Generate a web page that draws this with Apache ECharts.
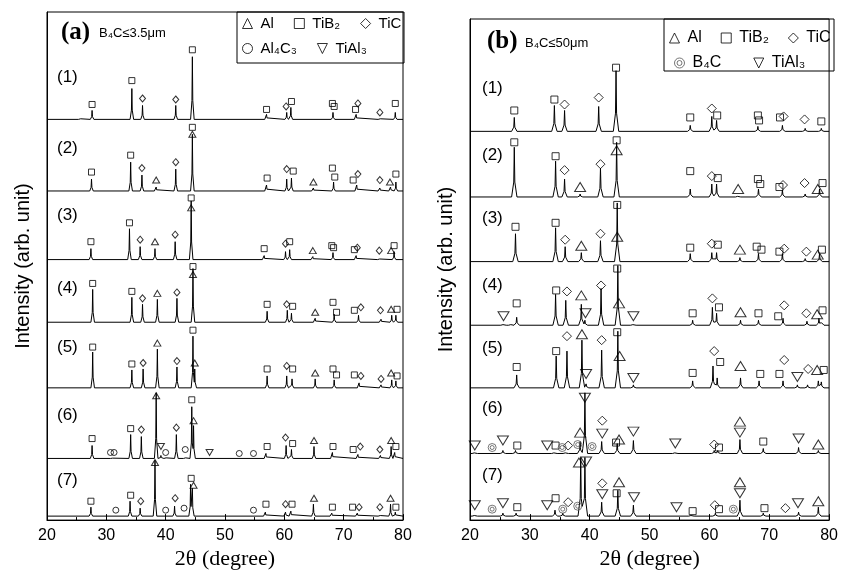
<!DOCTYPE html>
<html>
<head>
<meta charset="utf-8">
<script src="https://cdn.jsdelivr.net/npm/echarts@6/dist/echarts.min.js"></script>
<style>
  html, body { margin: 0; padding: 0; background: #fff; }
  #chart { width: 841px; height: 575px; }
</style>
</head>
<body>
<div id="chart"></div>
<script>
// 2θ range and tick labels
const xTicks = [20, 30, 40, 50, 60, 70, 80];
const phaseNames = { Al: "Al", TiB2: "TiB₂", TiC: "TiC", Al4C3: "Al₄C₃", TiAl3: "TiAl₃", B4C: "B₄C" };
const traceLabels = ["(1)", "(2)", "(3)", "(4)", "(5)", "(6)", "(7)"];

// panel (a) B4C <= 3.5um : stacking offsets (arb. unit), peaks [2θ, height], marks [phase, 2θ, height]
const offsetsA = [403, 331, 262, 199, 133, 62, 4];
const peaksA1 = [[25.6,2],[27.6,9],[34.3,31],[36.1,14],[41.7,14],[44.5,63],[57.0,5],[60.4,7],[61.1,12],[68.2,7],[72.1,5],[76.1,2],[78.7,7]];
const peaksA2 = [[27.5,12],[34.1,29],[36.0,16],[38.4,4],[41.7,22],[44.5,57],[57.0,6],[60.4,12],[61.2,13],[64.9,3],[68.3,9],[72.2,6],[76.1,3],[77.9,4],[78.8,9]];
const peaksA3 = [[27.4,11],[33.9,31],[35.7,13],[38.2,11],[41.6,18],[44.3,59],[56.6,4],[60.2,8],[60.9,10],[64.8,3],[68.2,7],[72.1,4],[76.0,2],[78.5,8]];
const peaksA4 = [[27.7,33],[34.3,25],[36.1,18],[38.6,23],[41.9,24],[44.6,54],[57.1,11],[60.5,12],[61.2,9],[65.2,4],[68.4,8],[72.5,7],[76.3,3],[78.1,7],[78.8,7]];
const peaksA5 = [[27.7,36],[34.3,18],[36.2,19],[38.6,39],[41.9,21],[44.6,52],[44.9,19],[57.1,12],[60.4,12],[61.3,9],[65.2,9],[68.4,8],[72.6,5],[76.3,3],[78.1,8],[78.8,7]];
const peaksA6 = [[27.6,13],[31.0,1],[34.1,24],[35.9,22],[38.4,66],[39.2,3],[40.0,2],[41.8,24],[43.3,2],[44.4,52],[44.7,33],[56.9,5],[60.3,13],[61.2,9],[65.0,12],[68.1,6],[72.4,4],[76.2,3],[78.0,12],[78.6,6]];
const peaksA7 = [[27.4,9],[34.0,15],[35.7,8],[38.2,56],[41.5,10],[44.2,32],[44.5,28],[56.8,4],[60.2,4],[61.1,5],[64.9,12],[68.0,3],[72.3,3],[76.1,2],[77.9,12],[78.7,4]];
const marksA1 = [["TiB2",27.6,15],["TiB2",34.3,39],["TiC",36.1,21],["TiC",41.7,20],["TiB2",44.5,70],["TiB2",57.0,10],["TiC",60.3,13],["TiB2",61.2,18],["TiB2",68.1,16],["TiB2",68.4,13],["TiB2",72.0,10],["TiC",72.4,16],["TiC",76.1,7],["TiB2",78.7,16]];
const marksA2 = [["TiB2",27.5,19],["TiB2",34.1,36],["TiC",36.0,23],["Al",38.4,11],["TiC",41.7,29],["TiB2",44.5,64],["Al",44.5,57],["TiB2",57.1,13],["TiC",60.4,22],["TiB2",61.5,20],["Al",64.9,9],["TiB2",68.1,23],["TiB2",68.5,14],["TiB2",71.6,11],["TiC",72.4,17],["TiC",76.1,11],["Al",77.8,9],["TiB2",78.8,17]];
const marksA3 = [["TiB2",27.4,18],["TiB2",33.9,37],["TiC",35.7,20],["Al",38.2,18],["TiC",41.6,25],["TiB2",44.3,62],["Al",44.3,52],["TiB2",56.6,11],["TiC",60.2,16],["TiB2",60.9,18],["Al",64.8,9],["TiB2",68.0,14],["TiB2",68.3,12],["TiB2",71.8,10],["TiC",72.3,12],["TiC",76.0,9],["Al",78.0,9],["TiB2",78.5,14]];
const marksA4 = [["TiB2",27.7,39],["TiB2",34.3,31],["TiC",36.1,24],["Al",38.6,29],["TiC",41.9,30],["TiB2",44.6,56],["Al",44.6,48],["TiB2",57.1,18],["TiC",60.4,18],["TiB2",61.4,16],["Al",65.2,10],["TiB2",68.2,20],["TiB2",68.8,10],["TiB2",71.8,12],["TiC",72.9,15],["TiC",76.2,12],["Al",78.0,13],["TiB2",79.0,13]];
const marksA5 = [["TiB2",27.7,41],["TiB2",34.3,24],["TiC",36.2,25],["Al",38.6,45],["TiC",41.9,27],["TiB2",44.6,58],["Al",44.9,25],["TiB2",57.1,19],["TiC",60.4,22],["TiB2",61.4,19],["Al",65.2,15],["TiB2",68.2,19],["TiB2",68.8,13],["TiB2",71.8,13],["TiC",72.9,12],["TiC",76.3,9],["Al",78.0,15],["TiB2",79.0,12]];
const marksA6 = [["TiB2",27.6,20],["Al4C3",30.7,6],["Al4C3",31.3,6],["TiB2",34.1,30],["TiC",35.9,29],["Al",38.4,63],["TiAl3",39.2,12],["Al4C3",40.0,6],["TiC",41.8,31],["Al4C3",43.3,9],["TiB2",44.4,59],["Al",44.7,38],["TiAl3",47.4,6],["Al4C3",52.4,5],["Al4C3",54.8,5],["TiB2",57.1,12],["TiC",60.2,21],["TiB2",61.4,15],["Al",65.0,18],["TiB2",68.2,12],["TiB2",71.6,9],["TiC",72.8,12],["TiC",76.1,9],["Al",78.0,18],["TiB2",78.8,12]];
const marksA7 = [["TiB2",27.4,15],["Al4C3",31.6,6],["TiB2",34.1,21],["TiC",35.8,15],["Al",38.2,54],["Al4C3",40.0,6],["TiC",41.6,18],["Al4C3",43.1,8],["TiB2",44.3,38],["Al",44.7,31],["Al4C3",54.8,6],["TiB2",56.9,12],["TiC",60.2,12],["TiB2",61.3,12],["Al",65.0,18],["TiB2",68.1,9],["TiB2",71.5,9],["TiC",72.6,9],["TiC",76.1,9],["Al",77.9,18],["TiB2",78.8,9]];

// panel (b) B4C <= 50um
const offsetsB = [391, 325, 260, 196, 133, 67, 4];
const peaksB1 = [[27.4,14],[34.1,26],[35.8,21],[41.5,25],[44.4,61],[56.8,6],[60.4,15],[61.2,11],[68.1,5],[72.2,6],[76.0,3],[78.7,3]];
const peaksB2 = [[27.4,50],[34.3,36],[35.8,18],[38.4,3],[41.8,29],[44.5,55],[56.8,8],[60.4,13],[61.2,13],[64.8,2],[68.2,8],[72.2,7],[76.0,3],[78.4,8]];
const peaksB3 = [[27.6,28],[34.3,34],[35.9,15],[38.6,9],[41.8,21],[44.6,59],[56.8,8],[60.4,9],[61.2,9],[65.1,4],[68.2,8],[72.2,8],[76.0,3],[78.4,8]];
const peaksB4 = [[25.6,2],[26.9,2],[27.8,8],[34.3,31],[36.0,25],[38.6,21],[39.2,5],[41.9,37],[44.7,60],[47.3,2],[57.2,5],[60.5,18],[61.2,12],[65.2,5],[68.2,5],[72.3,7],[76.3,4],[78.3,7],[78.7,4]];
const peaksB5 = [[27.8,13],[34.4,32],[36.2,37],[38.7,48],[39.4,4],[42.0,38],[44.7,57],[47.3,3],[57.2,7],[60.6,22],[61.3,10],[65.2,10],[68.3,7],[72.3,7],[74.7,3],[76.4,3],[78.2,7],[78.7,6]];
const peaksB6 = [[20.8,2],[25.5,3],[27.6,3],[34.1,2],[36.0,2],[38.4,12],[39.2,61],[42.0,12],[44.6,10],[47.3,13],[54.3,2],[60.8,3],[61.4,3],[65.1,14],[69.0,5],[74.9,6],[78.2,3]];
const peaksB7 = [[20.8,2],[25.5,3],[27.7,3],[34.2,6],[35.5,3],[38.5,59],[39.2,59],[42.0,14],[44.7,26],[47.3,11],[57.0,2],[61.0,3],[65.1,16],[69.0,3],[74.9,4],[78.2,9]];
const marksB1 = [["TiB2",27.4,21],["TiB2",34.1,32],["TiC",35.8,27],["TiC",41.5,34],["TiB2",44.4,64],["TiB2",56.8,14],["TiC",60.4,23],["TiB2",61.3,16],["TiB2",68.1,16],["TiB2",68.3,11],["TiB2",71.8,14],["TiC",72.4,15],["TiC",75.9,12],["TiB2",78.7,10]];
const marksB2 = [["TiB2",27.4,55],["TiB2",34.3,41],["TiC",35.8,27],["Al",38.4,10],["TiC",41.8,33],["TiB2",44.5,57],["Al",44.5,47],["TiB2",56.8,26],["TiC",60.4,21],["TiB2",61.4,19],["Al",64.8,8],["TiB2",68.1,18],["TiB2",68.5,13],["TiB2",71.7,10],["TiC",72.3,12],["TiC",75.9,14],["Al",78.1,8],["TiB2",78.9,14]];
const marksB3 = [["TiB2",27.6,35],["TiB2",34.3,39],["TiC",35.9,22],["Al",38.6,16],["TiC",41.8,28],["TiB2",44.6,57],["Al",44.6,25],["TiB2",56.8,14],["TiC",60.4,18],["TiB2",61.4,17],["Al",65.1,12],["TiB2",67.9,15],["TiB2",68.7,12],["TiB2",71.7,10],["TiC",72.5,13],["TiC",76.2,10],["Al",78.1,7],["TiB2",78.8,12]];
const marksB4 = [["TiAl3",25.6,9],["TiB2",27.8,22],["TiB2",34.4,35],["TiC",36.2,34],["Al",38.6,30],["TiAl3",39.3,12],["TiC",41.9,40],["TiB2",44.6,57],["Al",44.9,22],["TiAl3",47.3,9],["TiB2",57.2,12],["TiC",60.5,27],["TiB2",61.6,18],["Al",65.2,13],["TiB2",68.2,12],["TiB2",71.5,9],["TiC",72.5,20],["TiC",76.2,12],["Al",78.0,11],["TiB2",78.9,15]];
const marksB5 = [["TiB2",27.8,21],["TiB2",34.4,37],["TiC",36.2,52],["Al",38.7,54],["TiAl3",39.4,14],["TiC",42.0,48],["TiB2",44.6,56],["Al",45.0,32],["TiAl3",47.3,10],["TiB2",57.2,15],["TiC",60.8,37],["TiB2",61.8,26],["Al",65.2,22],["TiB2",68.5,14],["TiB2",71.7,14],["TiC",72.5,28],["TiAl3",74.7,11],["TiC",76.5,19],["Al",78.0,18],["TiB2",79.1,18]];
const marksB6 = [["TiAl3",20.8,8],["B4C",23.7,6],["TiAl3",25.5,13],["TiB2",27.9,8],["TiAl3",32.9,8],["TiB2",34.3,8],["B4C",35.4,6],["TiC",36.4,8],["B4C",38.0,9],["Al",38.4,21],["TiAl3",39.2,56],["B4C",40.4,7],["TiC",42.1,33],["TiAl3",42.1,20],["TiB2",44.4,11],["Al",44.9,14],["TiAl3",47.3,22],["TiAl3",54.3,10],["TiC",60.8,9],["TiB2",61.6,6],["Al",65.1,32],["TiAl3",65.1,21],["TiB2",69.0,12],["TiAl3",74.9,15],["Al",78.2,9]];
const marksB7 = [["TiAl3",20.8,11],["B4C",23.7,7],["TiAl3",25.5,13],["TiB2",27.9,9],["TiAl3",32.9,11],["TiB2",34.3,18],["B4C",35.5,7],["TiC",36.4,14],["B4C",38.0,10],["Al",38.2,54],["TiAl3",39.4,55],["TiC",42.1,33],["TiAl3",42.1,22],["TiB2",44.5,23],["Al",44.9,34],["TiAl3",47.4,19],["TiAl3",54.5,9],["TiB2",57.2,5],["TiC",60.9,11],["TiB2",61.6,7],["B4C",64.0,7],["Al",65.1,34],["TiAl3",65.1,23],["TiB2",69.2,8],["TiC",72.7,8],["TiAl3",74.8,13],["Al",78.2,15]];

const peaksA = [peaksA1, peaksA2, peaksA3, peaksA4, peaksA5, peaksA6, peaksA7];
const marksA = [marksA1, marksA2, marksA3, marksA4, marksA5, marksA6, marksA7];
const peaksB = [peaksB1, peaksB2, peaksB3, peaksB4, peaksB5, peaksB6, peaksB7];
const marksB = [marksB1, marksB2, marksB3, marksB4, marksB5, marksB6, marksB7];

const FONT = '"Liberation Sans", Arial, sans-serif';
const SERIF = '"Liberation Serif", "Times New Roman", serif';

// peak outline: sharp tip, narrow shoulder, flat baseline
function traceLine(peaks, offset, tip, foot) {
  let xs = [20, 80];
  peaks.forEach(p => xs.push(p[0] - foot, p[0] - tip, p[0], p[0] + tip, p[0] + foot));
  xs = xs.filter(x => x >= 20 && x <= 80).sort((a, b) => a - b);
  return xs.map(x => {
    let y = 0;
    peaks.forEach(p => {
      const d = Math.abs(x - p[0]);
      let v = 0;
      if (d <= tip) v = p[1] * (1 - 0.7 * d / tip);
      else if (d <= foot) v = p[1] * 0.3 * (foot - d) / (foot - tip);
      if (v > y) y = v;
    });
    return [x, offset + y];
  });
}

const INV_TRI = "path://M0,0L10,0L5,10Z";
const B4C_PATH = "path://M10,5A5,5,0,1,1,0,5A5,5,0,1,1,10,5ZM7.5,5A2.5,2.5,0,1,1,2.5,5A2.5,2.5,0,1,1,7.5,5Z";
const symbolOf = {
  Al: "triangle",
  TiB2: "rect",
  TiC: "diamond",
  Al4C3: "circle",
  TiAl3: INV_TRI,
  B4C: B4C_PATH
};

const sizesA = { Al: [7, 6], TiB2: [6, 6], TiC: [6, 7], Al4C3: [6, 6], TiAl3: [7, 6], B4C: [7, 7] };
const sizesB = { Al: [11, 9], TiB2: [7, 7], TiC: [9, 9], Al4C3: [7, 7], TiAl3: [11, 9], B4C: [8, 8] };

let series = [];
function addPanel(idx, peaksList, marksList, offsets, sizes, phases, tip, foot) {
  peaksList.forEach((pk, i) => {
    series.push({
      type: "line", xAxisIndex: idx, yAxisIndex: idx, silent: true,
      showSymbol: false, symbol: "none", animation: false,
      lineStyle: { color: "#000", width: 1 },
      data: traceLine(pk, offsets[i], tip, foot), z: 2
    });
  });
  phases.forEach(ph => {
    const data = [];
    marksList.forEach((mk, i) => {
      mk.forEach(m => { if (m[0] === ph) data.push([m[1], offsets[i] + m[2]]); });
    });
    series.push({
      name: ph, type: "scatter", xAxisIndex: idx, yAxisIndex: idx, silent: true,
      animation: false, symbol: symbolOf[ph], symbolKeepAspect: false,
      symbolSize: sizes[ph],
      itemStyle: { color: "transparent", borderColor: ph === "B4C" ? "#555" : "#000", borderWidth: 1 },
      data: data, z: 3
    });
  });
}
addPanel(0, peaksA, marksA, offsetsA, sizesA, ["Al", "TiB2", "TiC", "Al4C3", "TiAl3"], 0.07, 0.3);
addPanel(1, peaksB, marksB, offsetsB, sizesB, ["Al", "TiB2", "TiC", "B4C", "TiAl3"], 0.09, 0.45);

function xAxisCfg(idx) {
  return {
    type: "value", gridIndex: idx, min: 20, max: 80, interval: 10,
    name: "2θ (degree)", nameLocation: "middle", nameGap: 27,
    nameTextStyle: { fontFamily: SERIF, fontSize: 22, color: "#000" },
    axisLine: { lineStyle: { color: "#000", width: 1 } },
    axisTick: { inside: true, length: 6, lineStyle: { color: "#000" } },
    minorTick: { show: true, splitNumber: 2, length: 3, lineStyle: { color: "#000" } },
    splitLine: { show: false },
    axisLabel: { fontFamily: FONT, fontSize: 16, color: "#000", margin: 7,
      formatter: v => xTicks.indexOf(v) >= 0 ? String(v) : "" }
  };
}
function yAxisCfg(idx, max) {
  return {
    type: "value", gridIndex: idx, min: 0, max: max,
    name: "Intensity (arb. unit)", nameLocation: "middle", nameGap: 14,
    nameTextStyle: { fontFamily: FONT, fontSize: 20, color: "#000" },
    axisLine: { show: true, lineStyle: { color: "#000", width: 1 } },
    axisTick: { show: false }, axisLabel: { show: false }, splitLine: { show: false }
  };
}

function legendRow(names, left, top, gap, size, iconSize) {
  return {
    data: names.map(n => ({ name: n, icon: symbolOf[n] })),
    left: left, top: top, width: 300, orient: "horizontal", itemGap: gap,
    itemWidth: iconSize, itemHeight: iconSize, selectedMode: false, padding: 0,
    itemStyle: { color: "transparent", borderWidth: 1 },
    formatter: n => phaseNames[n],
    textStyle: { fontFamily: FONT, fontSize: size, color: "#000", padding: [0, 0, 0, 3] }
  };
}

const labelTexts = [];
const labelYA = [77, 148, 215, 288, 347, 415, 480];
const labelYB = [88, 155, 218, 285, 348, 408, 475];
traceLabels.forEach((t, i) => {
  labelTexts.push({ type: "text", x: 57, y: labelYA[i], style: { text: t, font: "17px " + FONT, fill: "#000", verticalAlign: "middle" } });
  labelTexts.push({ type: "text", x: 482, y: labelYB[i], style: { text: t, font: "17px " + FONT, fill: "#000", verticalAlign: "middle" } });
});

const option = {
  backgroundColor: "#fff",
  animation: false,
  grid: [
    { left: 47, right: 438, top: 12, bottom: 52, show: true, borderColor: "#000", borderWidth: 1 },
    { left: 470, right: 7, top: 19, bottom: 52, show: true, borderColor: "#000", borderWidth: 1 }
  ],
  xAxis: [xAxisCfg(0), xAxisCfg(1)],
  yAxis: [yAxisCfg(0, 511), yAxisCfg(1, 504)],
  legend: [
    legendRow(["Al", "TiB2", "TiC"], 242, 16, 20, 15, 10),
    legendRow(["Al4C3", "TiAl3"], 242, 41, 20, 15, 10),
    legendRow(["Al", "TiB2", "TiC"], 669, 30, 19, 16, 10),
    legendRow(["B4C", "TiAl3"], 674, 55, 32, 16, 10)
  ],
  graphic: [
    { type: "rect", shape: { x: 237, y: 12, width: 167, height: 51 }, style: { fill: "none", stroke: "#000", lineWidth: 1 } },
    { type: "rect", shape: { x: 664, y: 19, width: 170, height: 52 }, style: { fill: "none", stroke: "#000", lineWidth: 1 } },
    { type: "text", x: 61, y: 33, style: { text: "(a)", font: "bold 25px " + SERIF, fill: "#000", verticalAlign: "middle" } },
    { type: "text", x: 99, y: 33, style: { text: "B₄C≤3.5μm", font: "13px " + FONT, fill: "#000", verticalAlign: "middle" } },
    { type: "text", x: 487, y: 42, style: { text: "(b)", font: "bold 25px " + SERIF, fill: "#000", verticalAlign: "middle" } },
    { type: "text", x: 525, y: 43, style: { text: "B₄C≤50μm", font: "13px " + FONT, fill: "#000", verticalAlign: "middle" } }
  ].concat(labelTexts),
  series: series
};

const chart = echarts.init(document.getElementById("chart"), null, { renderer: "canvas" });
chart.setOption(option);
</script>
</body>
</html>
